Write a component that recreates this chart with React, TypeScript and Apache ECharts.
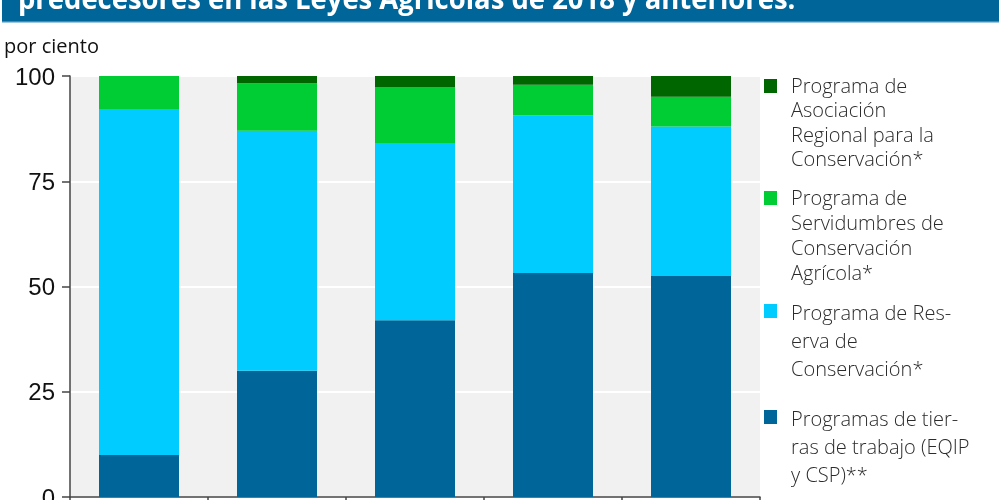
import React, { useEffect, useRef } from "react";
import * as echarts from "echarts";

const titleText = "predecesores en las Leyes Agrícolas de 2018 y anteriores.";
const yAxisTitle = "por ciento";
const categories = ["1996", "2002", "2008", "2014", "2018"];
const yTicks = [0, 25, 50, 75, 100];

const seriesNames = [
  "Programas de tierras de trabajo (EQIP y CSP)**",
  "Programa de Reserva de Conservación*",
  "Programa de Servidumbres de Conservación Agrícola*",
  "Programa de Asociación Regional para la Conservación*",
];
const seriesColors = ["#006699", "#00ccff", "#00cc33", "#006600"];

const workingLands = [10, 30, 42, 53.2, 52.5];
const crp = [82, 57, 42.1, 37.5, 35.5];
const acep = [8, 11.3, 13.3, 7.2, 7.1];
const rcpp = [0, 1.7, 2.6, 2.1, 4.9];

// Legend text as wrapped in the reference (top to bottom)
const legendLines = [
  ["Programa de", "Asociación", "Regional para la", "Conservación*"],
  ["Programa de", "Servidumbres de", "Conservación", "Agrícola*"],
  ["Programa de Res-", "erva de", "Conservación*"],
  ["Programas de tier-", "ras de trabajo (EQIP", "y CSP)**"],
];
const legendColorIdx = [3, 2, 1, 0];
const legendTops = [73, 185, 298, 404];
const legendLineHeights = [24.5, 25, 28, 28];

export default function App() {
  const ref = useRef<HTMLDivElement>(null);

  useEffect(() => {
    if (!ref.current) return;
    const chart = echarts.init(ref.current, undefined, { renderer: "svg" });
    const values = [workingLands, crp, acep, rcpp];

    const legendGraphics: any[] = [];
    legendLines.forEach((lines, i) => {
      legendGraphics.push({
        type: "rect",
        shape: { x: 764, y: legendTops[i] + 6, width: 13, height: 14 },
        style: { fill: seriesColors[legendColorIdx[i]] },
      });
      legendGraphics.push({
        type: "text",
        x: 791,
        y: legendTops[i],
        style: {
          text: lines.join("\n"),
          font: "300 20px 'Open Sans', sans-serif",
          fill: "#2b2b2b",
          lineHeight: legendLineHeights[i],
          verticalAlign: "top",
          align: "left",
        },
      });
    });

    chart.setOption({
      animation: false,
      grid: {
        left: 70,
        right: 240,
        top: 76,
        bottom: 3,
        show: true,
        backgroundColor: "#f1f1f1",
        borderWidth: 0,
        outerBoundsMode: "none",
        containLabel: false,
      },
      xAxis: {
        type: "category",
        data: categories,
        axisLine: { show: true, lineStyle: { color: "#444", width: 1.5 } },
        axisTick: { show: true, length: 8, lineStyle: { color: "#444", width: 1.5 } },
        axisLabel: { show: false },
      },
      yAxis: {
        type: "value",
        min: yTicks[0],
        max: yTicks[yTicks.length - 1],
        interval: 25,
        axisLine: { show: true, lineStyle: { color: "#444", width: 1.5 } },
        axisTick: { show: true, length: 8, lineStyle: { color: "#444", width: 1.5 } },
        axisLabel: {
          margin: 15,
          fontFamily: "'Liberation Sans', Arial, sans-serif",
          fontSize: 24,
          color: "#111",
        },
        splitLine: { show: true, lineStyle: { color: "#ffffff", width: 2 } },
      },
      series: values.map((v, i) => ({
        name: seriesNames[i],
        type: "bar",
        stack: "total",
        data: v,
        barWidth: 80,
        itemStyle: { color: seriesColors[i] },
      })),
      graphic: [
        {
          type: "rect",
          shape: { x: 2, y: 0, width: 997, height: 22 },
          style: { fill: "#006699" },
        },
        {
          type: "rect",
          shape: { x: 2, y: 21.5, width: 997, height: 1.2 },
          style: { fill: "#7fb6d6" },
        },
        {
          type: "text",
          x: 18,
          y: -2.5,
          scaleX: 0.98,
          style: {
            text: titleText,
            font: "bold 28px 'Open Sans', sans-serif",
            fill: "#ffffff",
            verticalAlign: "middle",
            align: "left",
          },
        },
        {
          type: "text",
          x: 4,
          y: 45,
          style: {
            text: yAxisTitle,
            font: "20px 'Open Sans', sans-serif",
            fill: "#111",
            verticalAlign: "middle",
            align: "left",
          },
        },
        ...legendGraphics,
      ],
    });

    return () => chart.dispose();
  }, []);

  return (
    <div
      ref={ref}
      style={{ position: "fixed", left: 0, top: 0, width: 1000, height: 500 }}
    />
  );
}
